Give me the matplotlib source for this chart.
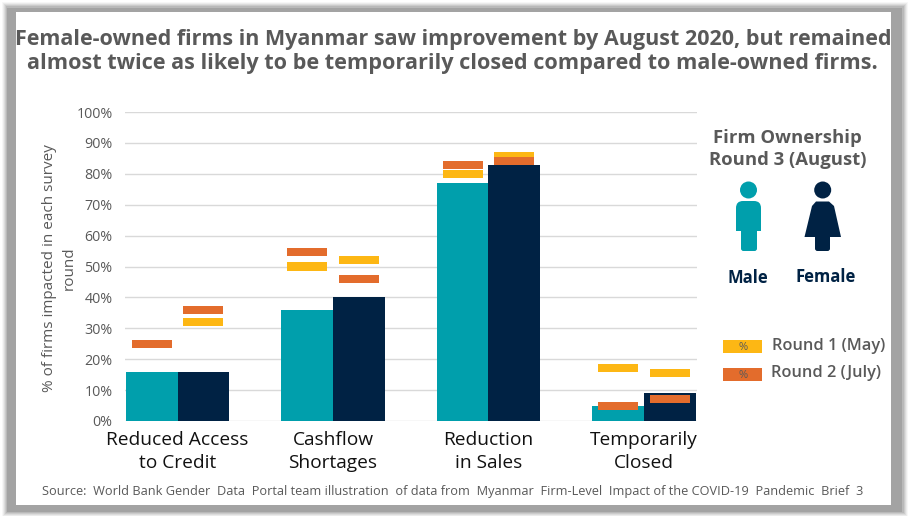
import numpy as np
import matplotlib
matplotlib.use("Agg")
import matplotlib.pyplot as plt
from matplotlib.patches import Rectangle, Circle, Polygon, FancyBboxPatch

plt.rcParams['font.family'] = ['Open Sans', 'DejaVu Sans']

categories = ['Reduced Access\nto Credit', 'Cashflow\nShortages', 'Reduction\nin Sales', 'Temporarily\nClosed']
male_round3 = [16, 36, 77, 5]
female_round3 = [16, 40, 83, 9]
male_round1 = [np.nan, 50, 80, 17]
male_round2 = [25, 54.7, 83, 5]
female_round1 = [32, 52, 85.8, 15.5]
female_round2 = [36, 46, 84, 7]
y_ticks = list(range(0, 101, 10))

TEAL = '#009FAC'
NAVY = '#002244'
YEL = '#FDB714'
ORG = '#E36C2C'
GRAY = '#595959'

fig = plt.figure(figsize=(9.09, 5.16), dpi=100, facecolor='white')

# overlay in pixel coordinates for frame, icons, and text
bg = fig.add_axes([0, 0, 1, 1], zorder=0)
bg.set_xlim(0, 909); bg.set_ylim(516, 0); bg.axis('off')
for i, a in zip(range(5, 0, -1), [.08, .12, .18, .25, .35]):
    bg.add_patch(Rectangle((7 - i, 7 - i), 896 + 2 * i, 505 + 2 * i, fc='#9a9a9a', ec='none', alpha=a))
bg.add_patch(Rectangle((7, 8), 895, 504, fc='#A3A3A3', ec='none'))
bg.add_patch(Rectangle((16, 12), 875, 493, fc='white', ec='none'))

W = 909.; H = 516.
L, R, T, B = 125, 697, 112, 421
ax = fig.add_axes([L / W, 1 - B / H, (R - L) / W, (B - T) / H], zorder=1)
ax.patch.set_alpha(0)
x = np.arange(len(categories))
bw = 0.3325
unit = 155.5
ax.set_xlim((L - 177.5) / unit, (R - 177.5) / unit)
ax.set_ylim(0, 100)
ax.bar(x - bw / 2, male_round3, bw, color=TEAL, zorder=2)
ax.bar(x + bw / 2, female_round3, bw, color=NAVY, zorder=2)
dw = 0.257; dh = 2.6
def dashes(xs, vals, col):
    vals = np.array(vals, float)
    ax.bar(xs, np.full(len(vals), dh), dw, bottom=vals - dh / 2, color=col, zorder=3)
dashes(x - bw / 2, male_round1, YEL)
dashes(x - bw / 2, male_round2, ORG)
dashes(x + bw / 2, female_round1, YEL)
dashes(x + bw / 2, female_round2, ORG)

ax.set_yticks(y_ticks)
ax.set_yticklabels([f'{v}%' for v in y_ticks], fontsize=10.3, color=GRAY)
ax.set_xticks(x)
ax.set_xticklabels(categories, fontsize=13.8, color='#111111', linespacing=1.3)
ax.tick_params(axis='both', length=0)
ax.tick_params(axis='y', pad=9)
ax.tick_params(axis='x', pad=7.5)
ax.grid(axis='y', color='#D9D9D9', lw=1, zorder=0)
ax.set_axisbelow(True)
for s in ax.spines.values():
    s.set_visible(False)

# y axis title
bg.text(59, 268, '% of firms impacted in each survey\nround', rotation=90, ha='center', va='center',
        fontsize=11, color=GRAY, linespacing=1.45)

# title and source
bg.text(453, 39, 'Female-owned firms in Myanmar saw improvement by August 2020, but remained',
        ha='center', va='center', fontsize=15.5, fontweight='bold', color=GRAY)
bg.text(452, 64, 'almost twice as likely to be temporarily closed compared to male-owned firms.',
        ha='center', va='center', fontsize=15.6, fontweight='bold', color=GRAY)
bg.text(453, 491, 'Source:  World Bank Gender  Data  Portal team illustration  of data from  Myanmar  Firm-Level  Impact of the COVID-19  Pandemic  Brief  3',
        ha='center', va='center', fontsize=9.17, color=GRAY)

# icon legend
bg.text(787, 138, 'Firm Ownership', ha='center', va='center', fontsize=13.3, fontweight='bold', color=GRAY)
bg.text(788, 160, 'Round 3 (August)', ha='center', va='center', fontsize=13.3, fontweight='bold', color=GRAY)

bg.add_patch(Circle((748.5, 190), 8.5, fc=TEAL, ec='none'))
bg.add_patch(Rectangle((736, 212), 25, 19, fc=TEAL, ec='none'))
bg.add_patch(FancyBboxPatch((736, 201), 25, 20, boxstyle='round,pad=0,rounding_size=7', fc=TEAL, ec='none'))
bg.add_patch(FancyBboxPatch((741, 225), 16, 26, boxstyle='round,pad=0,rounding_size=2.5', fc=TEAL, ec='none'))

bg.add_patch(Circle((822.7, 190), 8.5, fc=NAVY, ec='none'))
bg.add_patch(Polygon([(812, 206), (816, 201.5), (829, 201.5), (834, 206), (841, 237), (804.5, 237)], closed=True, fc=NAVY, ec='none'))
bg.add_patch(FancyBboxPatch((815, 230), 15, 21, boxstyle='round,pad=0,rounding_size=2.5', fc=NAVY, ec='none'))

bg.text(748, 278, 'Male', ha='center', va='center', fontsize=12, fontweight='bold', color=NAVY)
bg.text(826, 277, 'Female', ha='center', va='center', fontsize=12, fontweight='bold', color=NAVY)

# round legend
bg.add_patch(Rectangle((723, 340), 39, 13, fc=YEL, ec='none'))
bg.add_patch(Rectangle((723, 368), 39, 13, fc=ORG, ec='none'))
bg.text(743, 347, '%', ha='center', va='center', fontsize=8, color=GRAY)
bg.text(743, 375, '%', ha='center', va='center', fontsize=8, color=GRAY)
bg.text(772, 346, 'Round 1 (May)', ha='left', va='center', fontsize=11.8, fontweight='semibold', color=GRAY)
bg.text(771, 373, 'Round 2 (July)', ha='left', va='center', fontsize=11.8, fontweight='semibold', color=GRAY)

fig.savefig('out.png', dpi=100, facecolor='white')
